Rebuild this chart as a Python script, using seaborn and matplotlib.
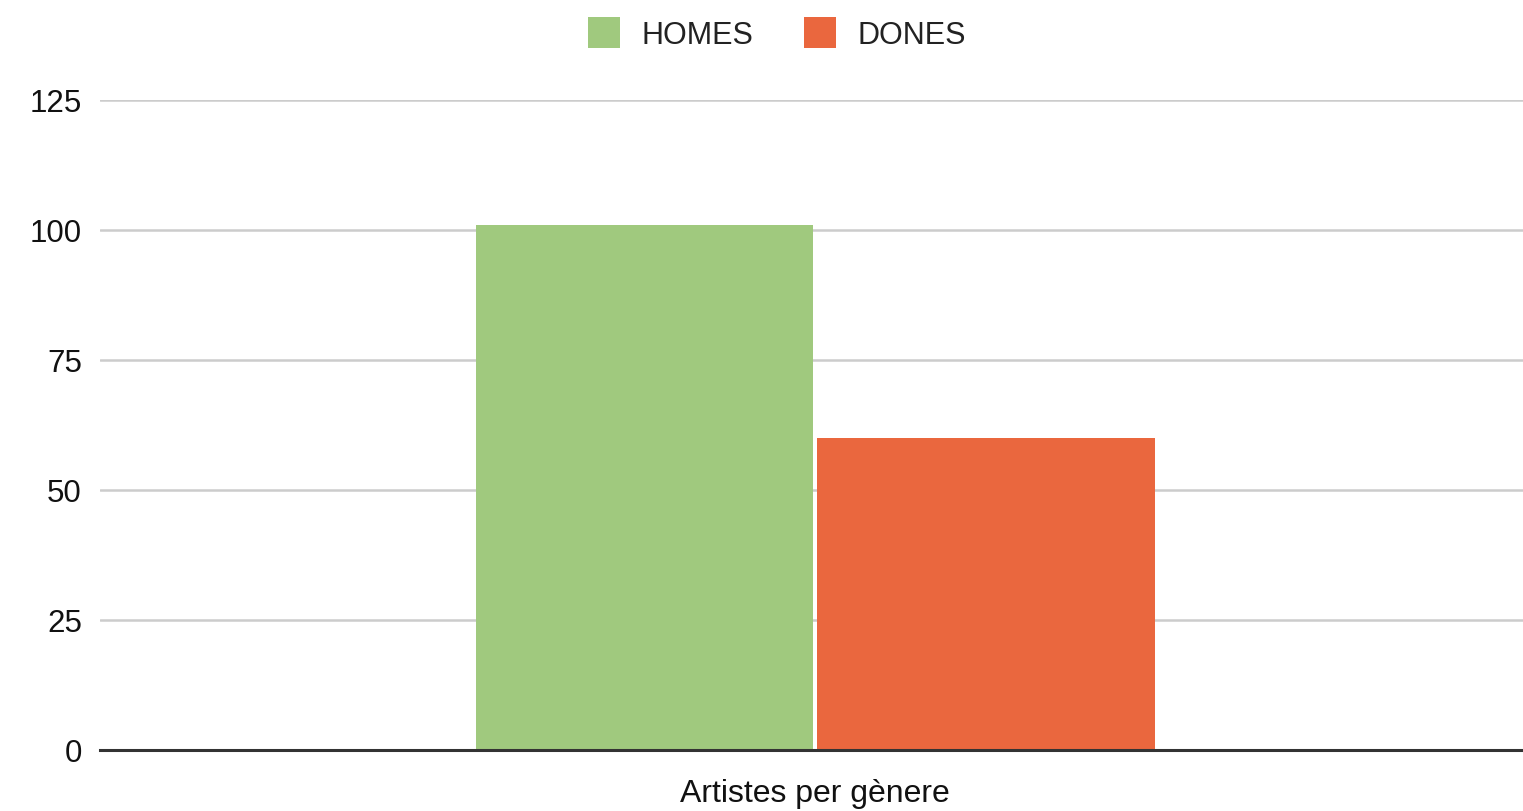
import matplotlib
matplotlib.use("Agg")
import matplotlib.pyplot as plt
import seaborn as sns
import pandas as pd
from matplotlib.patches import Patch

categories = ["Artistes per gènere"]
series = ["HOMES", "DONES"]
homes = [101]
dones = [60]
yticks = [0, 25, 50, 75, 100, 125]
colors = ["#a0c97e", "#ea673e"]

df = pd.DataFrame({
    "cat": categories * 2,
    "serie": [series[0]] * len(categories) + [series[1]] * len(categories),
    "val": homes + dones,
})

sns.set_theme(style="white")
plt.rcParams["font.family"] = ["Liberation Sans", "DejaVu Sans"]

fig = plt.figure(figsize=(15.23, 8.12), dpi=100)
ax = fig.add_axes([100 / 1523, 61 / 812, 1 - 100 / 1523, 650 / 812])

sns.barplot(data=df, x="cat", y="val", hue="serie", palette=colors,
            width=0.48, gap=0.012, ax=ax, legend=False, saturation=1,
            linewidth=0)

ax.set_xlim(-0.5025, 0.4975)
ax.set_ylim(0, 125)
ax.set_yticks(yticks)
ax.set_yticklabels([str(t) for t in yticks])
ax.grid(axis="y", color="#cccccc", linewidth=1.8)
ax.set_axisbelow(True)
for s in ["top", "right", "left"]:
    ax.spines[s].set_visible(False)
ax.spines["bottom"].set_color("#333333")
ax.spines["bottom"].set_linewidth(2.2)
ax.spines["bottom"].set_zorder(5)
ax.tick_params(axis="y", length=0, pad=13, labelsize=22.5, labelcolor="#111111")
ax.tick_params(axis="x", length=0, pad=20, labelsize=23, labelcolor="#111111")
ax.set_xlabel("")
ax.set_ylabel("")

handles = [Patch(facecolor=c, edgecolor="none") for c in colors]
fig.legend(handles, series, loc="upper center", bbox_to_anchor=(0.510, 1.012),
           ncol=2, frameon=False, fontsize=22, handlelength=1.05, handleheight=1.2,
           handletextpad=0.7, columnspacing=1.65, labelcolor="#222222")

fig.savefig("out.png", dpi=100)
